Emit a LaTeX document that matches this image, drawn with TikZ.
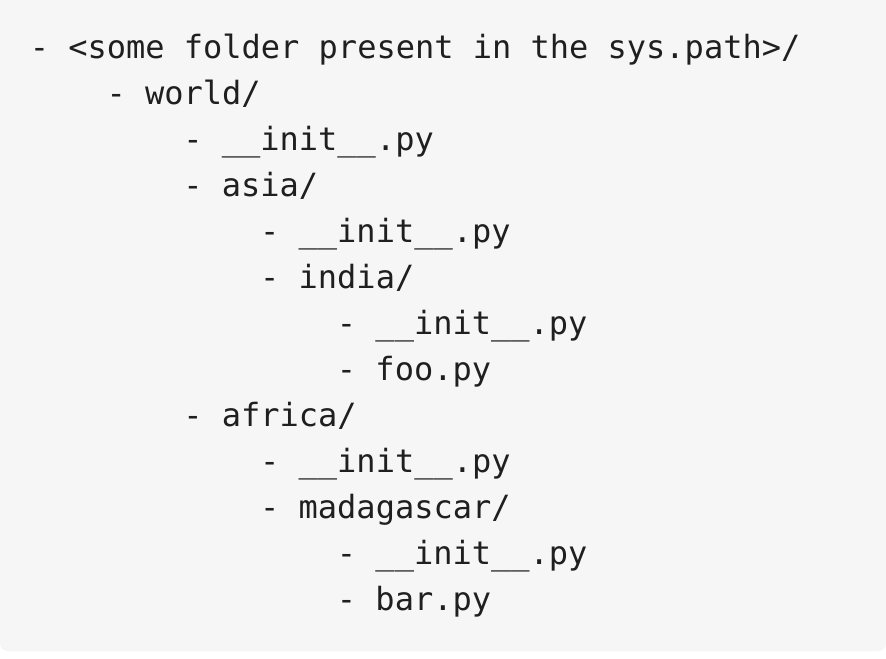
\documentclass[tikz,border=0pt]{standalone}
\usepackage{fontspec}
\setmonofont{DejaVu Sans Mono}
\usepackage{tikz}
\usetikzlibrary{positioning}
\definecolor{codebg}{HTML}{F6F6F6}
\definecolor{codefg}{HTML}{1F1F1F}
\tikzset{every entry/.style={anchor=base west, inner sep=0pt, text=codefg,
    font=\ttfamily\fontsize{24}{28}\selectfont}
}

\begin{document}
\begin{tikzpicture}[x=0.75pt, y=-0.75pt]
      \fill[white] (0,0) rectangle (886,658);
      \useasboundingbox (0,0) rectangle (886,658);
      \fill[codebg, rounded corners=6] (0,-20) rectangle (886,651);

      \node[every entry] (root)    at (29.5,58)   {- <some folder present in the sys.path>/};
      \node[every entry] (world)   at (106.3,104) {- world/};
      \node[every entry] (winit)   at (183.1,150) {- \_\_init\_\_.py};
      \node[every entry] (asia)    at (183.1,196) {- asia/};
      \node[every entry] (ainit)   at (259.9,242) {- \_\_init\_\_.py};
      \node[every entry] (india)   at (259.9,288) {- india/};
      \node[every entry] (iinit)   at (336.7,334) {- \_\_init\_\_.py};
      \node[every entry] (foo)     at (336.7,380) {- foo.py};
      \node[every entry] (africa)  at (183.1,426) {- africa/};
      \node[every entry] (afinit)  at (259.9,472) {- \_\_init\_\_.py};
      \node[every entry] (mada)    at (259.9,518) {- madagascar/};
      \node[every entry] (minit)   at (336.7,564) {- \_\_init\_\_.py};
      \node[every entry] (bar)     at (336.7,610) {- bar.py};
    \end{tikzpicture}
\end{document}
